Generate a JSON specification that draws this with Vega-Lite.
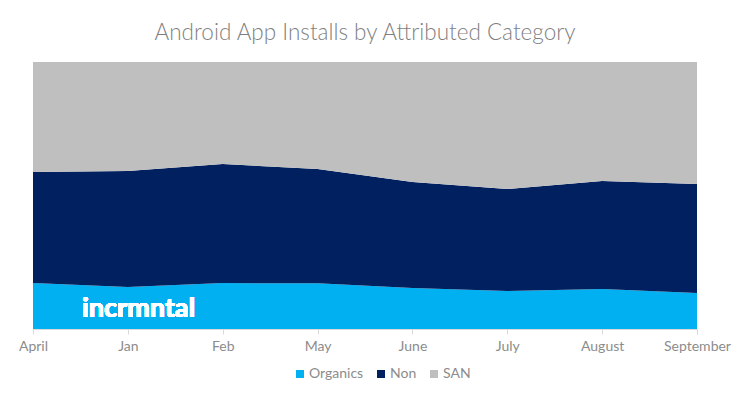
{
  "$schema": "https://vega.github.io/schema/vega-lite/v6.json",
  "width": 664,
  "height": 267,
  "autosize": {"type": "none"},
  "padding": {"left": 33, "top": 62, "right": 45, "bottom": 69},
  "background": "white",
  "config": {
    "view": {"stroke": null},
    "font": "Lato"
  },
  "title": {
    "text": "Android App Installs by Attributed Category",
    "fontSize": 22.5,
    "fontWeight": 300,
    "color": "#7f7f7f",
    "font": "Lato",
    "anchor": "middle",
    "offset": 18
  },
  "data": {
    "values": [
      {"month": "April", "category": "Organics", "share": 17.2},
      {"month": "Jan", "category": "Organics", "share": 15.7},
      {"month": "Feb", "category": "Organics", "share": 17.2},
      {"month": "May", "category": "Organics", "share": 17.1},
      {"month": "June", "category": "Organics", "share": 15.4},
      {"month": "July", "category": "Organics", "share": 14.2},
      {"month": "August", "category": "Organics", "share": 15.0},
      {"month": "September", "category": "Organics", "share": 13.5},
      {"month": "April", "category": "Non", "share": 41.6},
      {"month": "Jan", "category": "Non", "share": 43.5},
      {"month": "Feb", "category": "Non", "share": 44.6},
      {"month": "May", "category": "Non", "share": 42.8},
      {"month": "June", "category": "Non", "share": 39.7},
      {"month": "July", "category": "Non", "share": 38.2},
      {"month": "August", "category": "Non", "share": 40.4},
      {"month": "September", "category": "Non", "share": 40.8},
      {"month": "April", "category": "SAN", "share": 41.2},
      {"month": "Jan", "category": "SAN", "share": 40.8},
      {"month": "Feb", "category": "SAN", "share": 38.2},
      {"month": "May", "category": "SAN", "share": 40.1},
      {"month": "June", "category": "SAN", "share": 44.9},
      {"month": "July", "category": "SAN", "share": 47.6},
      {"month": "August", "category": "SAN", "share": 44.6},
      {"month": "September", "category": "SAN", "share": 45.7}
    ]
  },
  "layer": [
    {
      "transform": [
        {"calculate": "indexof(['Organics','Non','SAN'], datum.category)", "as": "stackOrder"}
      ],
      "mark": {"type": "area", "interpolate": "linear"},
      "encoding": {
        "x": {
          "field": "month",
          "type": "ordinal",
          "sort": ["April", "Jan", "Feb", "May", "June", "July", "August", "September"],
          "scale": {"type": "point", "padding": 0},
          "axis": {
            "title": null,
            "labelAngle": 0,
            "labelColor": "#8c8c8c",
            "labelFontSize": 14,
            "labelFont": "Lato",
            "labelPadding": 5,
            "tickColor": "#d9d9d9",
            "tickSize": 5,
            "domainColor": "#d9d9d9",
            "grid": false
          }
        },
        "y": {
          "field": "share",
          "type": "quantitative",
          "stack": "normalize",
          "axis": null
        },
        "color": {
          "field": "category",
          "type": "nominal",
          "sort": ["Organics", "Non", "SAN"],
          "scale": {
            "domain": ["Organics", "Non", "SAN"],
            "range": ["#00b0f0", "#002060", "#bfbfbf"]
          },
          "legend": {
            "title": null,
            "orient": "none",
            "legendX": 260,
            "legendY": 305,
            "direction": "horizontal",
            "symbolType": "square",
            "symbolSize": 64,
            "symbolStrokeWidth": 0,
            "labelColor": "#8c8c8c",
            "labelFontSize": 14,
            "labelFont": "Lato",
            "columnPadding": 10,
            "labelOffset": 2
          }
        },
        "order": {"field": "stackOrder", "type": "quantitative"}
      }
    },
    {
      "mark": {
        "type": "text",
        "text": "incrmntal",
        "color": "white",
        "fontSize": 27,
        "fontWeight": "bold",
        "font": "Lato",
        "align": "left",
        "baseline": "middle",
        "dx": 49
      },
      "encoding": {
        "x": {"datum": "April", "type": "ordinal"},
        "y": {"datum": 0.075, "type": "quantitative"}
      }
    }
  ]
}
